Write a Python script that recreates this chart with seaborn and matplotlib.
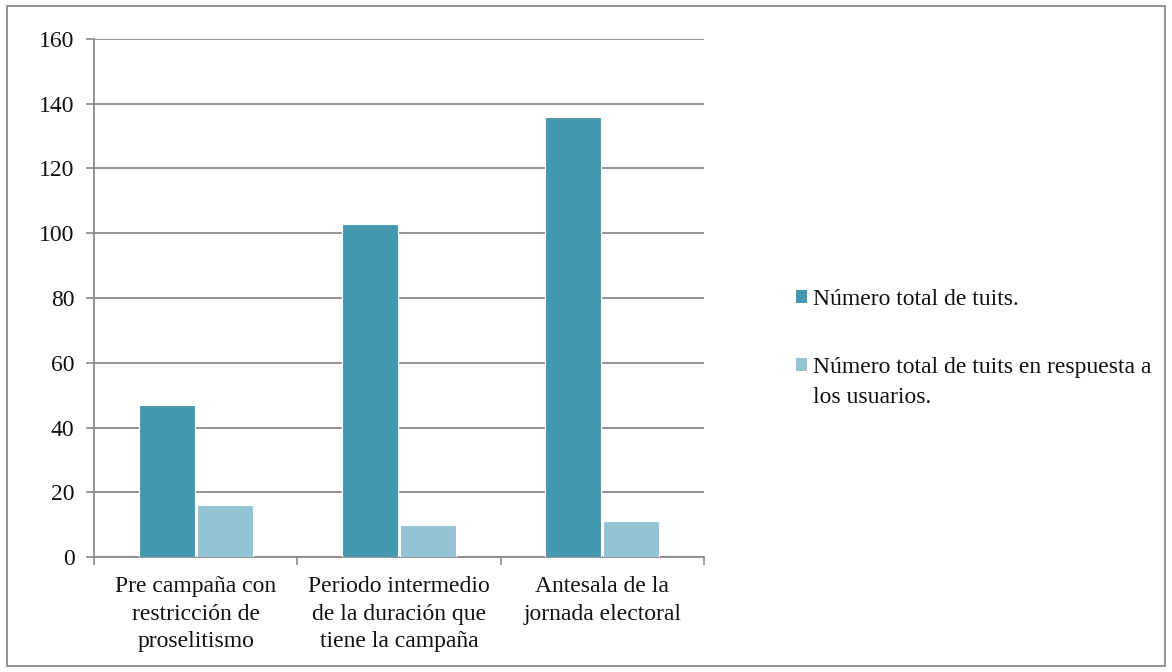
import matplotlib
matplotlib.use("Agg")
import matplotlib.pyplot as plt
import seaborn as sns
import pandas as pd
from matplotlib.patches import Rectangle
from matplotlib.ticker import FixedLocator

periodos = [
    "Pre campaña con\nrestricción de\nproselitismo",
    "Periodo intermedio\nde la duración que\ntiene la campaña",
    "Antesala de la\njornada electoral",
]
series = [
    "Número total de tuits.",
    "Número total de tuits en respuesta a los usuarios.",
]
total_tuits = [47, 103, 136]
tuits_respuesta = [16, 10, 11]
y_ticks = [0, 20, 40, 60, 80, 100, 120, 140, 160]

df = pd.DataFrame({
    "periodo": periodos * 2,
    "serie": [series[0]] * 3 + [series[1]] * 3,
    "valor": total_tuits + tuits_respuesta,
})

sns.set_theme(style="white")
plt.rcParams["font.family"] = ["Liberation Serif", "DejaVu Serif"]

FS = 17
GRID = "#8a8a8a"
TXT = "#111111"
fig = plt.figure(figsize=(11.72, 6.72), dpi=100)
ax = fig.add_axes([94 / 1172, 1 - 557 / 672, 610 / 1172, 518 / 672])

sns.barplot(
    data=df, x="periodo", y="valor", hue="serie", ax=ax,
    palette=["#4397ae", "#93c3d5"], width=0.57, gap=0.03,
    edgecolor="white", linewidth=0.8, saturation=1, errorbar=None,
    zorder=3,
)

ax.set_ylim(0, 160)
ax.set_xlim(-0.5, 2.5)
ax.set_yticks(y_ticks)
ax.set_yticklabels([str(v) for v in y_ticks], fontsize=FS, color=TXT)
ax.yaxis.grid(True, color=GRID, linewidth=1.3, zorder=0)
ax.set_axisbelow(True)
ax.set_xlabel("")
ax.set_ylabel("")

ax.tick_params(axis="x", which="major", length=0, pad=14, labelsize=FS,
               labelcolor=TXT)
ax.xaxis.set_minor_locator(FixedLocator([-0.5, 0.5, 1.5, 2.5]))
ax.tick_params(axis="x", which="minor", length=6, width=1.2, color=GRID,
               direction="out", bottom=True)
ax.tick_params(axis="y", length=6, width=1.2, color=GRID, direction="out",
               left=True, pad=8)
for lbl in ax.get_xticklabels():
    lbl.set_horizontalalignment("center")
    lbl.set_linespacing(1.38)

for side in ["top", "right"]:
    ax.spines[side].set_visible(False)
for side in ["left", "bottom"]:
    ax.spines[side].set_color(GRID)
    ax.spines[side].set_linewidth(1.3)

# Legend: markers sit beside the first line of each entry
handles, _ = ax.get_legend_handles_labels()
ax.legend_.remove()
leg = fig.legend(
    handles, ["Número total de tuits.", "Número total de tuits en respuesta a"],
    loc="upper left", bbox_to_anchor=(796 / 1172, 1 - 289 / 672),
    frameon=False, fontsize=FS, handlelength=0.47, handleheight=0.47,
    handletextpad=0.25, labelspacing=2.0, borderpad=0, borderaxespad=0,
)
for t in leg.get_texts():
    t.set_color(TXT)
for h in leg.legend_handles:
    h.set_edgecolor("none")

# continuation line of the second legend entry, placed under its first line
fig.canvas.draw()
second = leg.get_texts()[1]
bb = second.get_window_extent(renderer=fig.canvas.get_renderer())
fig.text(bb.x0 / fig.bbox.width, (bb.y0 - 9) / fig.bbox.height,
         "los usuarios.", fontsize=FS, color=TXT, va="top", ha="left")

fig.patches.append(Rectangle((7 / 1172, 6 / 672), 1158 / 1172, 660 / 672,
                             transform=fig.transFigure, fill=False,
                             edgecolor=GRID, linewidth=1.3))

fig.savefig("out.png", dpi=100)
